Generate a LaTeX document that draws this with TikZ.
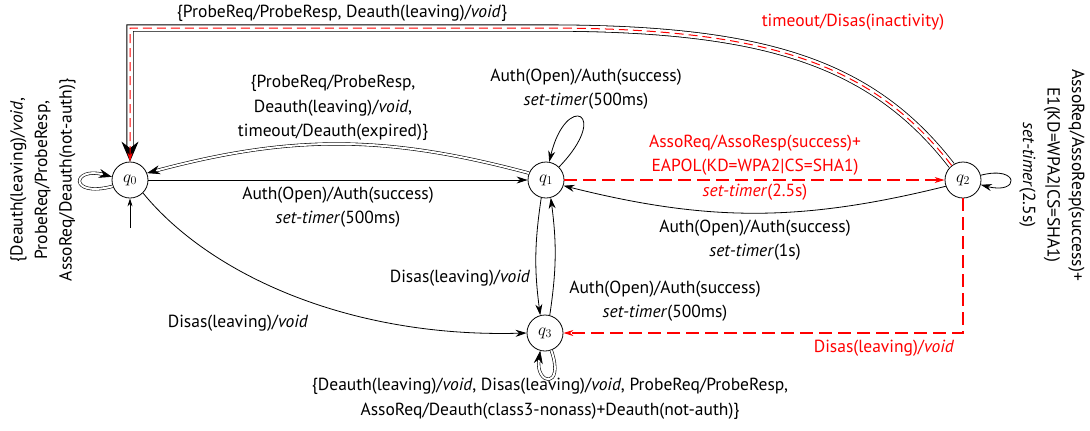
\documentclass[tikz,border=0pt]{standalone}
\usepackage[no-math]{fontspec}
\setmainfont{PT Sans}
\usetikzlibrary{arrows.meta}
\begin{document}
\begin{tikzpicture}[x=1bp,y=-1bp,
  st/.style={circle,draw,line width=0.8bp,minimum size=36bp,inner sep=0pt,font=\fontsize{18bp}{18bp}\selectfont},
  lbl/.style={align=center,font=\fontsize{17.5bp}{24.5bp}\selectfont,inner sep=0pt},
  edge/.style={line width=0.8bp,-{Stealth[length=11bp,width=7bp]}},
  dbl/.style={line width=0.6bp,double,double distance=2bp,-{Stealth[length=13bp,width=9bp]}},
  bigdbl/.style={line width=0.8bp,double,double distance=5.5bp},
  bigtip/.style={line width=0.8bp,-{Stealth[length=20bp,width=17bp]}},
  rdash/.style={red,line width=1.1bp,dash pattern=on 13bp off 6bp,-{Stealth[length=10bp,width=6bp]}},
  rthin/.style={red,line width=1bp,dash pattern=on 9bp off 5bp,-{Stealth[length=9bp,width=5bp]}},
]
\useasboundingbox (0,0) rectangle (1090,430);
\node[st] (q0) at (130,180) {$q_0$};
\node[st] (q1) at (546,180) {$q_1$};
\node[st] (q2) at (963,180) {$q_2$};
\node[st] (q3) at (545,333) {$q_3$};
\coordinate (tl) at (130,28);
\coordinate (tm) at (545,28);
\coordinate (tipstart) at (130,148);
\coordinate (init) at (130,228);
\coordinate (c23) at (963,333);
% top double path
\draw[bigdbl] (q2.128) .. controls (870,60) and (760,28) .. (tm) -- (tl) -- (tipstart);
\draw[bigtip] (tipstart) -- (q0.north);
\draw[rthin] (q2.128) .. controls (870,60) and (760,28) .. (tm) -- (tl) -- (q0.north);
\node[lbl] (ltop) at (342,13) {\{ProbeReq/ProbeResp, Deauth(leaving)/\textit{void}\}};
\node[lbl,red] (ltopr) at (853,22) {timeout/Disas(inactivity)};
% q0
\draw[dbl] (q0.200) .. controls (68,198) and (72,166) .. (q0.170);
\node[lbl,rotate=90] (l0) at (43,180) {\{Deauth(leaving)/\textit{void},\\ProbeReq/ProbeResp,\\AssoReq/Deauth(not-auth)\}};
\draw[line width=0.8bp,-{Stealth[length=8bp,width=5bp]}] (init) -- (q0.south);
% q0 -> q1
\draw[edge] (q0) -- (q1);
\node[lbl] (l01) at (338,207) {Auth(Open)/Auth(success)\\\textit{set-timer}(500ms)};
% q1 -> q0
\draw[dbl] (q1.158) to[bend right=15] (q0.22);
\node[lbl] (l10) at (333,108) {\{ProbeReq/ProbeResp,\\Deauth(leaving)/\textit{void},\\timeout/Deauth(expired)\}};
% q1 loop
\draw[edge] (q1.45) .. controls (612,112) and (566,92) .. (q1.80);
\node[lbl] (l11) at (586,89) {Auth(Open)/Auth(success)\\\textit{set-timer}(500ms)};
% q1 -> q2
\draw[rdash] (q1) -- (q2);
\node[lbl,red] (l12) at (755,155) {AssoReq/AssoResp(success)+\\EAPOL(KD=WPA2|CS=SHA1)};
\node[lbl,red] (l12b) at (755,192) {\textit{set-timer}(2.5s)};
% q2 -> q1
\draw[edge] (q2.200) to[bend left=14] (q1.-18);
\node[lbl] (l21) at (755,240) {Auth(Open)/Auth(success)\\\textit{set-timer}(1s)};
% q2 loop
\draw[edge] (q2.15) .. controls (1020,165) and (1020,195) .. (q2.-15);
\node[lbl,rotate=-90] (l22) at (1052,175) {AssoReq/AssoResp(success)+\\E1(KD=WPA2|CS=SHA1)\\\textit{set-timer}(2.5s)};
% q1 <-> q3
\draw[edge] (q1.-105) to[bend right=8] (q3.105);
\draw[edge] (q3.75) to[bend right=8] (q1.-75);
\node[lbl] (l13) at (460,278) {Disas(leaving)/\textit{void}};
\node[lbl] (l31) at (665,301) {Auth(Open)/Auth(success)\\\textit{set-timer}(500ms)};
% q0 -> q3
\draw[edge] (q0.-45) .. controls (210,275) and (350,338) .. (q3.west);
\node[lbl] (l03) at (238,323) {Disas(leaving)/\textit{void}};
% q2 -> q3
\draw[rdash] (q2.south) -- (c23) -- (q3.east);
\node[lbl,red] (l23) at (884,348) {Disas(leaving)/\textit{void}};
% q3 loop
\draw[dbl] (q3.-70) .. controls (565,390) and (535,385) .. (q3.-105);
\node[lbl] (l33) at (550,399) {\{Deauth(leaving)/\textit{void}, Disas(leaving)/\textit{void}, ProbeReq/ProbeResp,\\AssoReq/Deauth(class3-nonass)+Deauth(not-auth)\}};
\end{tikzpicture}
\end{document}
